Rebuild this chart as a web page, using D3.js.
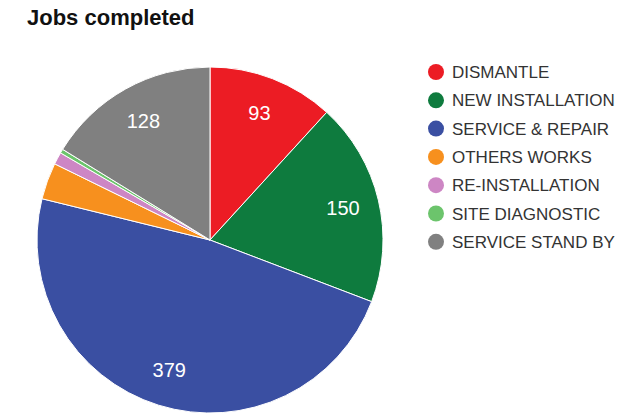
<!DOCTYPE html>
<html>
<head>
<meta charset="utf-8">
<script src="https://cdn.jsdelivr.net/npm/d3@7"></script>
<style>
    body { margin: 0; background: #fff; }
    svg { display: block; }
</style>
</head>
<body>
<svg id="pie_chart"></svg>
<script>
const categories = ['DISMANTLE', 'NEW INSTALLATION', 'SERVICE & REPAIR', 'OTHERS WORKS',
    'RE-INSTALLATION', 'SITE DIAGNOSTIC', 'SERVICE STAND BY']
const jobs = [93, 150, 379, 27, 9, 3, 128]
const colours = ['#ec1c24', '#0e7b3e', '#3a4fa2', '#f7901e', '#cd86c4', '#6cc46c', '#808080']

const width = 640
const height = 420
const cx = 210
const cy = 240
const radius = 173

const svg = d3.select('#pie_chart')
    .attr('width', width)
    .attr('height', height)

svg.append('text')
    .attr('x', 27)
    .attr('y', 25)
    .attr('font-family', 'Liberation Sans, Arial, sans-serif')
    .attr('font-weight', 'bold')
    .attr('font-size', 22)
    .attr('fill', '#111')
    .text('Jobs completed')

const colour = d3.scaleOrdinal().domain(categories).range(colours)

const pie = d3.pie().sort(null).value(d => d.value)
const rows = categories.map((c, i) => ({ name: c, value: jobs[i] }))
const arcs = pie(rows)

const arc = d3.arc().innerRadius(0).outerRadius(radius)
const labelArc = d3.arc().innerRadius(radius * 0.79).outerRadius(radius * 0.79)

const chart = svg.append('g')
    .attr('transform', `translate(${cx}, ${cy})`)

chart.selectAll('path')
    .data(arcs)
    .join('path')
    .attr('d', arc)
    .attr('fill', d => colour(d.data.name))
    .attr('stroke', '#fff')
    .attr('stroke-width', 1)

// only the bigger slices get a label
chart.selectAll('text')
    .data(arcs.filter(d => d.endAngle - d.startAngle > 0.3))
    .join('text')
    .attr('transform', d => `translate(${labelArc.centroid(d)})`)
    .attr('text-anchor', 'middle')
    .attr('dy', '0.35em')
    .attr('font-family', 'Liberation Sans, Arial, sans-serif')
    .attr('font-size', 20)
    .attr('fill', '#fff')
    .text(d => d.data.value)

const legend = svg.append('g')
    .attr('transform', 'translate(436, 72)')

const item = legend.selectAll('g')
    .data(categories)
    .join('g')
    .attr('transform', (d, i) => `translate(0, ${i * 28.3})`)

item.append('circle')
    .attr('r', 8)
    .attr('fill', d => colour(d))

item.append('text')
    .attr('x', 16)
    .attr('dy', '0.36em')
    .attr('font-family', 'Liberation Sans, Arial, sans-serif')
    .attr('font-size', 17)
    .attr('fill', '#333')
    .text(d => d)
</script>
</body>
</html>
